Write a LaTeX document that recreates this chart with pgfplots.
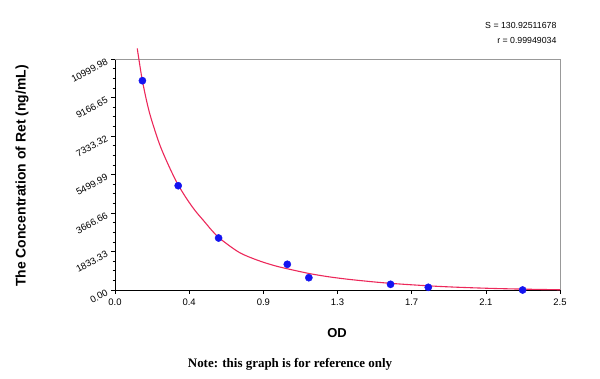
\documentclass[border=0pt]{standalone}
\usepackage{fontspec}
\setmainfont{Liberation Sans}
\newfontfamily\serifnote{Liberation Serif}
\usepackage{pgfplots}
\pgfplotsset{compat=1.18}
\definecolor{curvered}{RGB}{236,40,90}
\definecolor{dotblue}{RGB}{20,20,240}
\begin{document}
\begin{tikzpicture}
\path[use as bounding box] (0,0) rectangle (600bp,379bp);
\begin{axis}[
  at={(115bp,89bp)}, anchor=south west,
  width=445bp, height=231bp, scale only axis,
  xmin=0, xmax=2.5, ymin=0, ymax=10999.98,
  axis x line*=bottom, axis y line*=left,
  axis line style={black, line width=0.6pt},
  clip=false,
  scaled y ticks=false, scaled x ticks=false,
  xtick={0,0.41667,0.83333,1.25,1.66667,2.08333,2.5},
  xticklabels={0.0,0.4,0.9,1.3,1.7,2.1,2.5},
  ytick={0,1833.33,3666.66,5499.99,7333.32,9166.65,10999.98},
  yticklabels={0.00,1833.33,3666.66,5499.99,7333.32,9166.65,10999.98},
  minor x tick num=3, minor y tick num=3,
  tick align=outside,
  major tick length=4bp, minor tick length=2.5bp,
  tick style={black, line width=0.5pt},
  /pgf/number format/assume math mode=true,
  ticklabel style={font=\fontsize{9.5}{11}\selectfont},
  yticklabel style={rotate=28, anchor=east, xshift=-1bp},
  xticklabel style={yshift=-1bp},
]
\draw[gray!80, line width=0.8pt] (rel axis cs:0,1) -- (rel axis cs:1,1) -- (rel axis cs:1,0);
\addplot[curvered, line width=1.1pt, smooth, no marks] coordinates {
  (0.125,11500) (0.15,10150) (0.175,9100) (0.2,8250) (0.25,6950)
  (0.3,5950) (0.35,5080) (0.4,4380) (0.45,3780) (0.5,3280)
  (0.55,2780) (0.6,2380) (0.7,1780) (0.8,1420) (0.9,1150)
  (1.0,950) (1.1,770) (1.2,630) (1.3,520) (1.4,430) (1.5,350)
  (1.6,285) (1.7,230) (1.8,180) (1.9,140) (2.0,108) (2.1,80)
  (2.2,58) (2.3,40) (2.4,25) (2.5,12)
};
\addplot[only marks, mark=*, mark size=3.6bp, mark options={fill=dotblue, draw=dotblue}] coordinates {
  (0.154,9967) (0.355,4967) (0.582,2476) (0.968,1224) (1.089,586)
  (1.548,271) (1.760,128) (2.290,0)
};
\end{axis}
\node[anchor=east, font=\fontsize{8.8}{10}\selectfont] at (560bp,354bp) {S = 130.92511678};
\node[anchor=east, font=\fontsize{8.8}{10}\selectfont] at (560bp,339bp) {r = 0.99949034};
\node[font=\fontsize{13}{15}\selectfont\bfseries] at (337bp,46bp) {OD};
\node[rotate=90, font=\fontsize{14}{16}\selectfont\bfseries] at (22bp,203bp) {The Concentration of Ret (ng/mL)};
\node[font=\serifnote\fontsize{13}{15}\selectfont\bfseries] at (290bp,15bp) {Note: this graph is for reference only};
\end{tikzpicture}
\end{document}
